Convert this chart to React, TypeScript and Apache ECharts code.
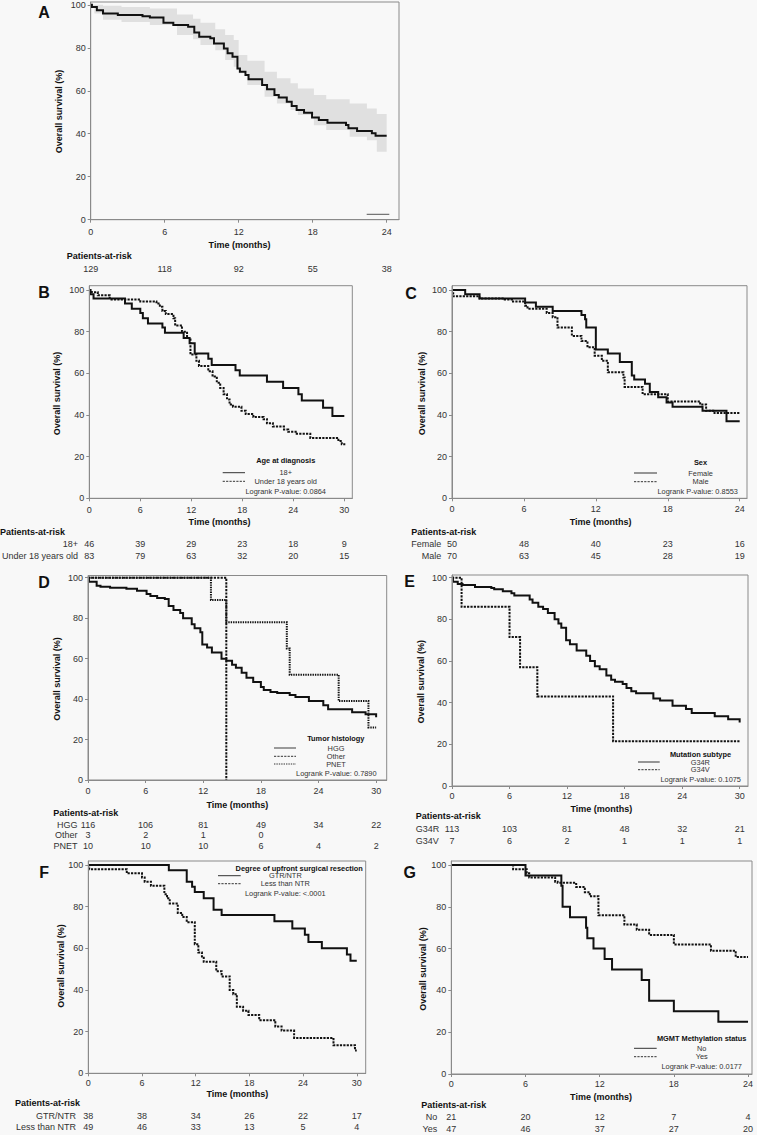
import React, { useEffect, useRef } from 'react';
import * as echarts from 'echarts';

type Pt = [number, number];

// ================= DATA =================
const xTicks24 = [0, 6, 12, 18, 24];
const xTicks30 = [0, 6, 12, 18, 24, 30];
const yTicks = [0, 20, 40, 60, 80, 100];

// ---- A: overall survival with 95% CI ----
const A_overall: Pt[] = [
  [0, 100], [0.1, 99], [0.5, 97.5], [1.0, 96], [2.2, 95.2], [4.2, 94.7], [4.8, 94.1], [5.9, 91.6],
  [6.7, 90.6], [7.9, 89.8], [8.4, 87.1], [8.8, 85.1], [9.7, 84.4], [10.0, 82.0], [10.8, 79.7],
  [11.1, 77.4], [11.5, 75.8], [11.9, 70.4], [12.1, 68.9], [12.55, 67.3], [12.8, 65.4], [13.9, 62.7],
  [14.3, 60.7], [14.9, 58.0], [15.25, 56.9], [15.9, 54.9], [16.3, 52.9], [16.7, 51.0], [17.3, 49.8],
  [17.95, 47.6], [18.5, 46.4], [19.2, 45.1], [20.7, 44.1], [20.9, 42.5], [21.6, 41.3], [22.8, 40.2],
  [23.1, 39.1], [24, 39.1],
];
const A_ciTime = [0, 0.3, 1, 2.5, 4.8, 7.0, 8.3, 8.9, 10.1, 10.9, 11.6, 12.0, 12.7, 14.1, 15.1, 16.2, 16.8, 18.1, 19.1, 21.0, 22.4, 23.2, 24];
const A_ciUpper = [100, 100, 99.5, 99, 98.3, 95.5, 93.5, 91.6, 88.6, 86, 83.6, 76.6, 74, 68.8, 65.8, 63.5, 61.1, 58, 56, 54.1, 51.8, 49.2, 49.2];
const A_ciLower = [99, 96, 93, 92, 90.6, 86, 84, 81.3, 78.9, 74.3, 71.2, 68.1, 62.7, 57.2, 54.1, 51, 48.7, 44, 41.7, 38.6, 37, 31.6, 31.6];
const A_atRisk = [129, 118, 92, 55, 38];

// ---- B: age at diagnosis ----
const B_adult: Pt[] = [
  [0, 100], [0.1, 98], [0.5, 96], [4.2, 93.5], [5.0, 91], [6.0, 89], [6.3, 86.5], [6.9, 84], [8.6, 82],
  [8.9, 79.5], [11.1, 77], [11.8, 74.5], [12.4, 69.5], [14.0, 67], [14.4, 64], [17.2, 61.5], [17.7, 59],
  [20.9, 56], [22.8, 53], [24.6, 50], [25.0, 47], [27.5, 43.5], [28.6, 39.5], [30, 39.5],
];
const B_under18: Pt[] = [
  [0, 100], [0.3, 99], [1.0, 97.5], [2.4, 95.5], [6.0, 94.5], [7.9, 93.5], [8.3, 92], [8.6, 90], [9.0, 88.5],
  [9.9, 86.5], [10.1, 83], [10.9, 80], [11.5, 77], [11.9, 69], [12.6, 66], [12.9, 63.5], [14.0, 61],
  [14.5, 58.5], [15.0, 55.5], [15.4, 53], [15.8, 50], [16.2, 47.5], [16.5, 45], [16.9, 44], [17.9, 42],
  [18.4, 40.5], [19.3, 39], [20.5, 38], [20.9, 36], [21.6, 34.5], [22.9, 33], [23.4, 32], [24.4, 31],
  [26.0, 29], [29.3, 27.5], [29.7, 26], [30, 25.5],
];
const B_riskAdult = [46, 39, 29, 23, 18, 9];
const B_riskUnder18 = [83, 79, 63, 32, 20, 15];

// ---- C: sex ----
const C_female: Pt[] = [
  [0, 100], [1.1, 98], [2.3, 96], [6.1, 94], [7.0, 92], [8.4, 90], [10.8, 88], [11.1, 86], [11.2, 82],
  [12.0, 71.5], [13.0, 69.5], [14.0, 65.5], [15.0, 59], [15.2, 57], [16.1, 55], [16.5, 51], [17.2, 48.5],
  [17.9, 46], [18.4, 44], [20.9, 42], [22.9, 37], [24, 37],
];
const C_male: Pt[] = [
  [0, 100], [0.1, 97], [2.3, 96], [4.4, 95.5], [5.0, 94.5], [6.1, 92.5], [6.3, 91], [7.9, 89], [8.4, 87],
  [8.8, 82], [10.0, 78], [10.8, 75.5], [11.3, 72.5], [11.9, 68.5], [12.5, 66], [13.0, 60.5], [14.3, 58],
  [14.4, 53.5], [15.9, 50], [18.0, 46.5], [20.7, 45], [21.2, 42], [21.9, 41], [24, 41],
];
const C_riskFemale = [50, 48, 40, 23, 16];
const C_riskMale = [70, 63, 45, 28, 19];

// ---- D: tumor histology ----
const D_hgg: Pt[] = [
  [0, 100], [0.1, 98], [0.9, 96], [1.3, 95.5], [2.3, 95], [4.0, 94.5], [5.1, 93.5], [6.1, 92], [6.5, 91],
  [7.2, 90], [8.0, 89.5], [8.4, 86], [8.9, 84], [9.6, 82.5], [9.9, 80], [10.8, 77], [11.1, 75], [11.7, 73],
  [11.9, 67], [12.4, 65.5], [12.9, 63], [13.9, 60], [14.4, 59], [15.0, 57], [15.4, 55.5], [16.0, 53],
  [16.5, 50.5], [17.2, 48.5], [18.0, 46], [18.3, 44.5], [19.0, 43.5], [19.7, 43], [21.0, 42], [21.6, 41],
  [23.0, 39], [24.5, 37], [25.0, 35], [27.5, 33.5], [28.9, 32.5], [30, 31],
];
const D_other: Pt[] = [[0, 100], [14.4, 0]];
const D_pnet: Pt[] = [[0, 100], [12.8, 89], [14.4, 78], [20.7, 65], [21.0, 52], [26.1, 39], [29.2, 26], [30, 26]];
const D_riskHgg = [116, 106, 81, 49, 34, 22];
const D_riskOther = [3, 2, 1, 0];
const D_riskPnet = [10, 10, 10, 6, 4, 2];

// ---- E: mutation subtype ----
const E_g34r: Pt[] = [
  [0, 100], [0.1, 98], [0.6, 97], [1.1, 96.5], [2.4, 95.5], [4.1, 95], [4.4, 94.5], [5.3, 93.5], [6.2, 92.5],
  [6.5, 91.5], [8.1, 89.5], [8.4, 88], [9.0, 86], [9.5, 85], [10.0, 83], [10.7, 80], [11.1, 78], [11.4, 76],
  [11.9, 70], [12.3, 68], [13.0, 65], [14.0, 62.5], [14.4, 60], [14.9, 57.5], [15.4, 56], [16.1, 53],
  [16.6, 51], [17.0, 50], [17.8, 49], [18.2, 47], [18.7, 45.5], [19.2, 44.5], [21.0, 42], [21.7, 41],
  [23.0, 38.5], [24.4, 37], [25.0, 35], [27.4, 33.5], [28.8, 32], [30, 30.5],
];
const E_g34v: Pt[] = [[0, 100], [1.0, 86], [6.0, 71.5], [7.1, 57], [8.9, 43], [16.8, 21.5], [30, 21.5]];
const E_riskG34R = [113, 103, 81, 48, 32, 21];
const E_riskG34V = [7, 6, 2, 1, 1, 1];

// ---- F: degree of resection ----
const F_gtr: Pt[] = [
  [0, 100], [9.0, 97.5], [11.0, 92], [11.6, 89.5], [11.9, 87], [12.9, 84], [14.0, 78.5], [14.9, 76],
  [20.8, 73], [22.8, 69.5], [24.2, 66.5], [24.6, 63], [26.1, 60], [28.9, 57], [29.3, 54], [30, 54],
];
const F_less: Pt[] = [
  [0, 100], [0.1, 98], [4.3, 96], [6.0, 94], [6.3, 92], [7.0, 90], [8.5, 86], [8.8, 84], [9.1, 81.5],
  [10.0, 77], [10.5, 75], [11.0, 72.5], [11.9, 62], [12.3, 58], [12.7, 55.5], [12.9, 53.5], [14.3, 49],
  [14.9, 46.5], [15.8, 40], [16.2, 38], [16.6, 32], [17.3, 30], [17.9, 28], [19.1, 25.5], [20.9, 22.5],
  [21.6, 20.5], [23.0, 17], [27.4, 13.5], [29.8, 11], [30, 11],
];
const F_riskGtr = [38, 38, 34, 26, 22, 17];
const F_riskLess = [49, 46, 33, 13, 5, 4];

// ---- G: MGMT methylation ----
const G_no: Pt[] = [
  [0, 100], [6.0, 95], [8.9, 90], [9.0, 80], [9.6, 75], [10.9, 70], [11.0, 65], [11.5, 60], [12.4, 55],
  [13.0, 50], [15.4, 45], [16.0, 35], [18.0, 30], [21.6, 25], [24, 25],
];
const G_yes: Pt[] = [
  [0, 100], [5.0, 98], [6.1, 96], [6.3, 94], [8.4, 92], [8.6, 91.5], [10.1, 89.5], [10.8, 87], [11.2, 85],
  [11.9, 76], [14.0, 71.5], [15.0, 69], [16.0, 66.5], [18.0, 62], [21.0, 59], [23.0, 56], [24, 56],
];
const G_riskNo = [21, 20, 12, 7, 4];
const G_riskYes = [47, 46, 37, 27, 20];

// ================= STYLE / LAYOUT =================
const FONT = '"Liberation Sans", Arial, Helvetica, sans-serif';
const INK = '#111111';
const LABEL = '#333333';
const AXIS = '#8a8a8a';
const BG = '#f8f8f8';
const BAND = '#e0e0e0';
const DASH = [2.2, 1.2];
const DOT = [1.4, 1];

type Dash = 'solid' | number[];
interface CurveDef { data: Pt[]; dash: Dash; }
interface RowDef { label: string; counts: number[]; y: number; lx: number; align: 'left' | 'right'; }
interface LegItem { label: string; y: number; dash: Dash; color?: string; width?: number; }
interface LegendDef {
  title?: string; titleX: number; titleY: number; itemX: number; items: LegItem[];
  sx1: number; sx2: number; pval?: string; pvalX: number; pvalY: number;
}
interface PanelDef {
  letter: string; letterPos: [number, number];
  box: { l: number; t: number; r: number; b: number };
  xMax: number; yMax: number; xTicks: number[]; xLabelMargin: number;
  yTitle: [number, number]; xTitle: [number, number]; header: [number, number];
  rows: RowDef[]; legend: LegendDef; curves: CurveDef[]; band?: boolean;
}

const panels: PanelDef[] = [
  {
    letter: 'A', letterPos: [44, 12],
    box: { l: 90.7, t: 2, r: 399, b: 219.7 }, xMax: 25.0, yMax: 101.3, xTicks: xTicks24, xLabelMargin: 12.6,
    yTitle: [59, 111.5], xTitle: [239.5, 245], header: [66.7, 255.7],
    rows: [{ label: '', counts: A_atRisk, y: 269.3, lx: 60, align: 'right' }],
    legend: { titleX: 0, titleY: 0, itemX: 0, items: [{ label: '', y: 214.3, dash: 'solid', color: '#555', width: 1 }], sx1: 366.7, sx2: 389.3, pvalX: 0, pvalY: 0 },
    curves: [{ data: A_overall, dash: 'solid' }], band: true,
  },
  {
    letter: 'B', letterPos: [44, 292.5],
    box: { l: 89.3, t: 285.7, r: 352.3, b: 498.3 }, xMax: 30.94, yMax: 102.1, xTicks: xTicks30, xLabelMargin: 11.7,
    yTitle: [56.7, 393.5], xTitle: [219.5, 521.7], header: [0, 532],
    rows: [
      { label: '18+', counts: B_riskAdult, y: 544.3, lx: 78, align: 'right' },
      { label: 'Under 18 years old', counts: B_riskUnder18, y: 556, lx: 78, align: 'right' },
    ],
    legend: {
      title: 'Age at diagnosis', titleX: 285.7, titleY: 460.3, itemX: 285.7,
      items: [{ label: '18+', y: 472.7, dash: 'solid' }, { label: 'Under 18 years old', y: 481.3, dash: DASH }],
      sx1: 222.7, sx2: 245, pval: 'Logrank P-value: 0.0864', pvalX: 285.7, pvalY: 491,
    },
    curves: [{ data: B_adult, dash: 'solid' }, { data: B_under18, dash: DASH }],
  },
  {
    letter: 'C', letterPos: [411, 293],
    box: { l: 452, t: 285.7, r: 747, b: 498.3 }, xMax: 24.61, yMax: 102.1, xTicks: xTicks24, xLabelMargin: 11,
    yTitle: [422, 393.5], xTitle: [600.7, 521.7], header: [411.3, 532],
    rows: [
      { label: 'Female', counts: C_riskFemale, y: 544, lx: 441.3, align: 'right' },
      { label: 'Male', counts: C_riskMale, y: 555.7, lx: 441.3, align: 'right' },
    ],
    legend: {
      title: 'Sex', titleX: 700.5, titleY: 462.7, itemX: 700.6,
      items: [{ label: 'Female', y: 473, dash: 'solid' }, { label: 'Male', y: 481.7, dash: DASH }],
      sx1: 634, sx2: 657, pval: 'Logrank P-value: 0.8553', pvalX: 697.7, pvalY: 491.3,
    },
    curves: [{ data: C_female, dash: 'solid' }, { data: C_male, dash: DASH }],
  },
  {
    letter: 'D', letterPos: [44, 582],
    box: { l: 88, t: 575.5, r: 386.7, b: 780 }, xMax: 31.1, yMax: 101.1, xTicks: xTicks30, xLabelMargin: 11,
    yTitle: [56.7, 679], xTitle: [237.3, 805], header: [53.3, 813.3],
    rows: [
      { label: 'HGG', counts: D_riskHgg, y: 825, lx: 77.5, align: 'right' },
      { label: 'Other', counts: D_riskOther, y: 835.3, lx: 77.5, align: 'right' },
      { label: 'PNET', counts: D_riskPnet, y: 846, lx: 77.5, align: 'right' },
    ],
    legend: {
      title: 'Tumor histology', titleX: 335.8, titleY: 738.3, itemX: 336,
      items: [
        { label: 'HGG', y: 748, dash: 'solid', color: '#9a9a9a', width: 2 },
        { label: 'Other', y: 756.3, dash: DASH },
        { label: 'PNET', y: 764, dash: DOT },
      ],
      sx1: 274, sx2: 296, pval: 'Logrank P-value: 0.7890', pvalX: 336.3, pvalY: 773,
    },
    curves: [{ data: D_hgg, dash: 'solid' }, { data: D_pnet, dash: DOT }, { data: D_other, dash: DASH }],
  },
  {
    letter: 'E', letterPos: [409.5, 581],
    box: { l: 452, t: 575, r: 748, b: 786 }, xMax: 30.87, yMax: 101.3, xTicks: xTicks30, xLabelMargin: 9.7,
    yTitle: [420.7, 681.7], xTitle: [601.3, 809.3], header: [415.7, 815.7],
    rows: [
      { label: 'G34R', counts: E_riskG34R, y: 829, lx: 415.7, align: 'left' },
      { label: 'G34V', counts: E_riskG34V, y: 840.7, lx: 415.7, align: 'left' },
    ],
    legend: {
      title: 'Mutation subtype', titleX: 700.5, titleY: 754.3, itemX: 700.3,
      items: [{ label: 'G34R', y: 762, dash: 'solid' }, { label: 'G34V', y: 769.7, dash: DASH }],
      sx1: 638, sx2: 659.7, pval: 'Logrank P-value: 0.1075', pvalX: 700.7, pvalY: 779,
    },
    curves: [{ data: E_g34r, dash: 'solid' }, { data: E_g34v, dash: DASH }],
  },
  {
    letter: 'F', letterPos: [44.2, 872.5],
    box: { l: 88.3, t: 861, r: 365.7, b: 1073.3 }, xMax: 31.0, yMax: 101.9, xTicks: xTicks30, xLabelMargin: 9.7,
    yTitle: [61, 966], xTitle: [237.3, 1094.3], header: [15, 1103.3],
    rows: [
      { label: 'GTR/NTR', counts: F_riskGtr, y: 1115.7, lx: 76, align: 'right' },
      { label: 'Less than NTR', counts: F_riskLess, y: 1126.7, lx: 76, align: 'right' },
    ],
    legend: {
      title: 'Degree of upfront surgical resection', titleX: 299.2, titleY: 868.3, itemX: 285.3,
      items: [{ label: 'GTR/NTR', y: 875.7, dash: 'solid' }, { label: 'Less than NTR', y: 883.7, dash: DASH }],
      sx1: 218, sx2: 240.7, pval: 'Logrank P-value: <.0001', pvalX: 285.3, pvalY: 893.3,
    },
    curves: [{ data: F_gtr, dash: 'solid' }, { data: F_less, dash: DASH }],
  },
  {
    letter: 'G', letterPos: [409.7, 872.5],
    box: { l: 451.3, t: 861, r: 752, b: 1074 }, xMax: 24.32, yMax: 101.9, xTicks: xTicks24, xLabelMargin: 10.3,
    yTitle: [423, 969], xTitle: [601, 1096.7], header: [421.3, 1105],
    rows: [
      { label: 'No', counts: G_riskNo, y: 1117.3, lx: 437.3, align: 'right' },
      { label: 'Yes', counts: G_riskYes, y: 1129, lx: 437.3, align: 'right' },
    ],
    legend: {
      title: 'MGMT Methylation status', titleX: 701.7, titleY: 1038.3, itemX: 701.7,
      items: [{ label: 'No', y: 1048.3, dash: 'solid' }, { label: 'Yes', y: 1056.7, dash: DASH }],
      sx1: 634, sx2: 656.7, pval: 'Logrank P-value: 0.0177', pvalX: 701.7, pvalY: 1066.3,
    },
    curves: [{ data: G_no, dash: 'solid' }, { data: G_yes, dash: DASH }],
  },
];

function txt(x: number, y: number, text: string, o: Record<string, any> = {}, rotation = 0) {
  return {
    type: 'text', x, y, rotation, silent: true, z: 20,
    style: { text, fill: INK, fontFamily: FONT, fontSize: 9, align: 'left', verticalAlign: 'middle', ...o },
  };
}

// Confidence band drawn as one stepped polygon through the axis scales.
function renderBand(params: any, api: any) {
  if (params.dataIndex !== 0) return null;
  const n = A_ciTime.length;
  const pts: number[][] = [];
  for (let i = 0; i < n; i++) {
    pts.push(api.coord([A_ciTime[i], A_ciUpper[i]]));
    if (i < n - 1) pts.push(api.coord([A_ciTime[i + 1], A_ciUpper[i]]));
  }
  for (let i = n - 1; i >= 0; i--) {
    if (i < n - 1) pts.push(api.coord([A_ciTime[i + 1], A_ciLower[i]]));
    pts.push(api.coord([A_ciTime[i], A_ciLower[i]]));
  }
  return { type: 'polygon', shape: { points: pts }, style: { fill: BAND, stroke: null } };
}

function buildOption() {
  const grid: any[] = [];
  const xAxis: any[] = [];
  const yAxis: any[] = [];
  const series: any[] = [];
  const elements: any[] = [];

  panels.forEach((p, gi) => {
    const { box } = p;
    grid.push({
      left: box.l, top: box.t, width: box.r - box.l, height: box.b - box.t,
      show: true, borderColor: AXIS, borderWidth: 1, backgroundColor: 'transparent',
      containLabel: false, outerBoundsMode: 'none',
    });
    const mainX = xAxis.length;
    xAxis.push({
      gridIndex: gi, type: 'value', min: 0, max: p.xMax, position: 'bottom', z: 10,
      axisLine: { show: true, onZero: false, lineStyle: { color: AXIS, width: 1 } },
      axisTick: { show: true, length: 3, customValues: p.xTicks, lineStyle: { color: AXIS } },
      axisLabel: {
        customValues: p.xTicks, margin: p.xLabelMargin, verticalAlign: 'middle',
        fontSize: 9, color: LABEL, fontFamily: FONT,
      },
      splitLine: { show: false },
    });
    p.rows.forEach((row) => {
      const counts = row.counts;
      const ticks = p.xTicks;
      xAxis.push({
        gridIndex: gi, type: 'value', min: 0, max: p.xMax, position: 'bottom',
        offset: row.y - box.b, z: 10,
        axisLine: { show: false }, axisTick: { show: false }, splitLine: { show: false },
        axisLabel: {
          customValues: ticks, margin: 0, verticalAlign: 'middle',
          fontSize: 9, color: LABEL, fontFamily: FONT,
          formatter: (v: number) => {
            const k = ticks.indexOf(Math.round(v));
            return k >= 0 && k < counts.length ? String(counts[k]) : '';
          },
        },
      });
    });
    const yi = yAxis.length;
    yAxis.push({
      gridIndex: gi, type: 'value', min: 0, max: p.yMax, z: 10,
      axisLine: { show: true, onZero: false, lineStyle: { color: AXIS, width: 1 } },
      axisTick: { show: true, length: 3, customValues: yTicks, lineStyle: { color: AXIS } },
      axisLabel: { customValues: yTicks, margin: 5, fontSize: 9, color: LABEL, fontFamily: FONT },
      splitLine: { show: false },
    });

    if (p.band) {
      series.push({
        type: 'custom', xAxisIndex: mainX, yAxisIndex: yi, silent: true, z: 1,
        data: A_ciTime.map((t, i) => [t, A_ciLower[i], A_ciUpper[i]]),
        encode: { x: 0, y: [1, 2] },
        renderItem: renderBand,
      });
    }
    p.curves.forEach((c) => {
      series.push({
        type: 'line', xAxisIndex: mainX, yAxisIndex: yi, step: 'end', symbol: 'none', silent: true,
        data: c.data, clip: true,
        lineStyle: { color: INK, width: 2, type: c.dash, cap: 'butt', join: 'miter' }, z: 4,
      });
    });

    // texts
    elements.push(txt(p.letterPos[0], p.letterPos[1], p.letter, { fontSize: 16, fontWeight: 'bold', align: 'center' }));
    elements.push(txt(p.yTitle[0], p.yTitle[1], 'Overall survival (%)', { fontWeight: 'bold', align: 'center' }, Math.PI / 2));
    elements.push(txt(p.xTitle[0], p.xTitle[1], 'Time (months)', { fontWeight: 'bold', align: 'center' }));
    elements.push(txt(p.header[0], p.header[1], 'Patients-at-risk', { fontWeight: 'bold' }));
    p.rows.forEach((row) => {
      if (row.label) elements.push(txt(row.lx, row.y, row.label, { align: row.align, fill: LABEL }));
    });
    const lg = p.legend;
    if (lg.title) elements.push(txt(lg.titleX, lg.titleY, lg.title, { fontSize: 7.4, fontWeight: 'bold', align: 'center' }));
    lg.items.forEach((it) => {
      elements.push({
        type: 'line', silent: true, z: 20,
        shape: { x1: lg.sx1, y1: it.y, x2: lg.sx2, y2: it.y },
        style: {
          stroke: it.color || '#333', lineWidth: it.width || 1,
          lineDash: it.dash === 'solid' ? null : it.dash,
        },
      });
      if (it.label) elements.push(txt(lg.itemX, it.y, it.label, { fontSize: 7.4, align: 'center', fill: LABEL }));
    });
    if (lg.pval) elements.push(txt(lg.pvalX, lg.pvalY, lg.pval, { fontSize: 7.4, align: 'center', fill: LABEL }));
  });

  return {
    animation: false,
    backgroundColor: BG,
    grid, xAxis, yAxis, series,
    graphic: { elements },
  };
}

export default function App() {
  const ref = useRef<HTMLDivElement>(null);
  useEffect(() => {
    if (!ref.current) return;
    const chart = echarts.init(ref.current, undefined, { renderer: 'svg', width: 757, height: 1135 });
    chart.setOption(buildOption() as any);
    return () => chart.dispose();
  }, []);
  return (
    <div
      ref={ref}
      style={{ position: 'absolute', left: 0, top: 0, width: 757, height: 1135, background: BG }}
    />
  );
}
